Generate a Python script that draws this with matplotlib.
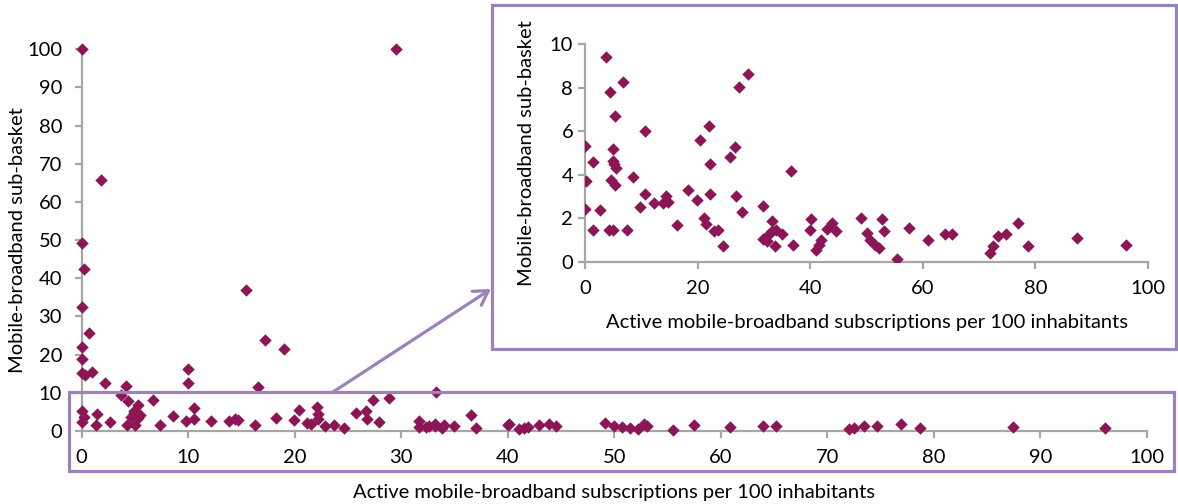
import numpy as np
import matplotlib
matplotlib.use('Agg')
import matplotlib.pyplot as plt
from matplotlib.patches import Rectangle, FancyArrowPatch

# data
subs = [0, 29.5, 1.8, 0, 0.2, 0, 0.7, 0, 0, 0, 0.3, 1.0, 2.25, 4.2, 10.0, 10.0,
        15.4, 17.25, 19.0, 16.6, 33.3,
        0, 0.2, 0, 1.5, 1.4, 2.7, 3.7, 4.4, 4.3, 5.0, 4.9, 4.9, 5.3, 4.6, 5.2,
        5.5, 5.3, 6.7, 7.4, 8.6, 9.8, 10.6, 10.6, 12.2, 13.8, 14.4, 14.7, 16.3,
        18.3, 19.9, 20.4, 21.2, 21.5, 22.1, 22.2, 22.2, 22.9, 23.7, 24.6, 25.8,
        26.7, 26.8, 27.4, 27.9, 28.9, 31.7, 31.7, 32.3, 32.6, 33.2, 33.2, 33.8,
        34.0, 35.0, 36.6, 37.0, 40.0, 40.1, 41.1, 41.5, 41.9, 42.9, 43.9, 44.5,
        49.1, 50.0, 50.7, 51.5, 52.2, 52.8, 53.1, 55.5, 57.5, 60.9, 64.0, 65.2,
        72.0, 72.5, 73.4, 74.7, 76.9, 78.7, 87.4, 96.1]
basket = [100, 100, 65.8, 49.3, 42.4, 32.6, 25.6, 21.9, 18.8, 15.1, 14.7, 15.4,
          12.5, 11.8, 16.2, 12.5, 36.9, 23.8, 21.5, 11.6, 10.3,
          5.34, 3.71, 2.45, 4.57, 1.46, 2.38, 9.40, 7.79, 1.49, 1.49, 4.65, 5.18,
          6.72, 3.76, 4.48, 4.29, 3.53, 8.24, 1.49, 3.91, 2.53, 6.01, 3.11, 2.71,
          2.71, 3.02, 2.76, 1.69, 3.30, 2.84, 5.60, 2.04, 1.73, 6.26, 4.48, 3.10,
          1.41, 1.49, 0.74, 4.83, 5.29, 3.04, 8.01, 2.30, 8.62, 2.56, 1.04, 0.97,
          1.30, 1.87, 1.41, 0.72, 1.46, 1.27, 4.19, 0.80, 1.46, 1.96, 0.57, 0.80,
          1.03, 1.53, 1.79, 1.43,
          2.02, 1.35, 1.00, 0.80, 0.64, 1.96, 1.43, 0.15, 1.56, 1.03, 1.30, 1.27,
          0.41, 0.72, 1.18, 1.27, 1.79, 0.72, 1.10, 0.80]

xlabel = 'Active mobile-broadband subscriptions per 100 inhabitants'
ylabel = 'Mobile-broadband sub-basket'

W, H = 1178, 504
plt.rcParams['font.family'] = ['Lato', 'DejaVu Sans']
mcol = '#8C1655'
gcol = '#A6A6A6'
pcol = '#9A83B9'
fs = 14.5

fig = plt.figure(figsize=(W/100, H/100), dpi=100)

def px(x0, y0, x1, y1):
    # pixel box -> figure fraction [left, bottom, width, height]
    return [x0/W, 1 - y1/H, (x1 - x0)/W, (y1 - y0)/H]

def style(ax, xpad, ypad):
    for s in ['top', 'right']:
        ax.spines[s].set_visible(False)
    for s in ['left', 'bottom']:
        ax.spines[s].set_color(gcol)
        ax.spines[s].set_linewidth(1.6)
    ax.tick_params(colors=gcol, width=1.6, length=5, labelsize=fs, labelcolor='black')
    ax.tick_params(axis='x', pad=xpad)
    ax.tick_params(axis='y', pad=ypad)

# main chart
ax = fig.add_axes(px(81.5, 49.3, 1147, 431))
ax.scatter(subs, basket, marker='D', s=40, color=mcol, linewidths=0, clip_on=False, zorder=3)
ax.set_xlim(0, 100)
ax.set_ylim(0, 100)
ax.set_xticks(np.arange(0, 101, 10))
ax.set_yticks(np.arange(0, 101, 10))
style(ax, 8, 9)
ax.set_xlabel(xlabel, fontsize=fs, labelpad=13)
ax.set_ylabel(ylabel, fontsize=fs, labelpad=1)

# box round the 0-10 band
b = px(68.5, 392, 1174, 471)
fig.add_artist(Rectangle(b[:2], b[2], b[3], transform=fig.transFigure,
                         fill=False, edgecolor=pcol, linewidth=2.3, zorder=2))

# inset frame
r = px(492, 5, 1176, 349)
fig.add_artist(Rectangle(r[:2], r[2], r[3], transform=fig.transFigure,
                         facecolor='white', edgecolor=pcol, linewidth=2.3, zorder=2))

# arrow from the band to the inset
fig.add_artist(FancyArrowPatch((333/W, 1 - 392/H), (491/W, 1 - 289/H),
                               transform=fig.transFigure, arrowstyle='->,head_length=10,head_width=6',
                               color=pcol, linewidth=2.3, shrinkA=0, shrinkB=0, zorder=2))

# inset chart
axi = fig.add_axes(px(585, 44, 1148, 262))
axi.set_zorder(3)
axi.patch.set_alpha(0)
axi.scatter(subs, basket, marker='D', s=40, color=mcol, linewidths=0, zorder=3)
axi.set_xlim(0, 100)
axi.set_ylim(0, 10)
axi.set_xticks(np.arange(0, 101, 20))
axi.set_yticks(np.arange(0, 11, 2))
style(axi, 8, 3.5)
axi.set_xlabel(xlabel, fontsize=fs, labelpad=12)
axi.set_ylabel(ylabel, fontsize=fs, labelpad=11)

fig.savefig('out.png', dpi=100)
